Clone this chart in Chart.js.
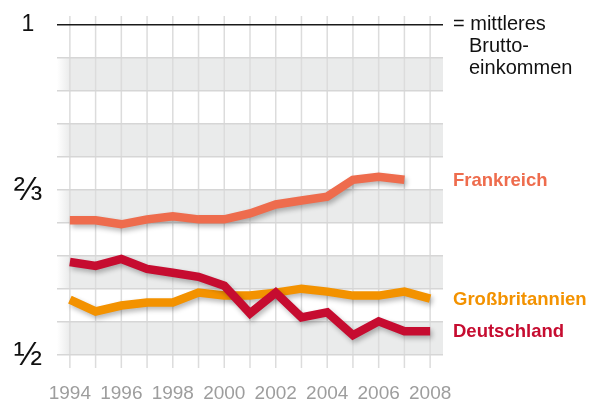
<!DOCTYPE html>
<html>
<head>
<meta charset="utf-8">
<script src="https://cdn.jsdelivr.net/npm/chart.js@4"></script>
<style>
  html, body { margin: 0; padding: 0; background: #fff; }
</style>
</head>
<body>
<canvas id="chart" width="592" height="401"></canvas>
<script>

// share of median gross income ("mittleres Bruttoeinkommen")
const years = ['1994', '1995', '1996', '1997', '1998', '1999', '2000', '2001',
               '2002', '2003', '2004', '2005', '2006', '2007', '2008'];

const frankreich = [0.636, 0.636, 0.632, 0.637, 0.640, 0.637, 0.637, 0.643,
                    0.652, 0.656, 0.660, 0.677, 0.680, 0.677, null];

const grossbritannien = [0.556, 0.544, 0.550, 0.553, 0.553, 0.563, 0.560, 0.560,
                         0.563, 0.567, 0.564, 0.560, 0.560, 0.564, 0.557];

const deutschland = [0.594, 0.590, 0.597, 0.587, 0.583, 0.579, 0.570, 0.542,
                     0.563, 0.538, 0.543, 0.520, 0.534, 0.524, 0.524];

// the axis is broken: ½ → ⅔ and ⅔ → 1 get the same height, so the
// "1" line sits where 5/6 would be on a plain scale
const gridValues = [0.5, 0.5333, 0.5667, 0.6, 0.6333, 0.6667, 0.7, 0.7333, 0.7667, 0.8, 0.8333];
const yLabels = { 0: '\u00BD', 5: '\u2154', 10: '1' };

const FONT = '"Liberation Sans", Arial, sans-serif';

const backdrop = {
    id: 'backdrop',
    beforeDraw(chart) {
        const { ctx, chartArea: a, scales: { x, y } } = chart;
        ctx.save();

        // grey bands
        for (let i = 0; i < gridValues.length - 1; i += 2) {
            const top = y.getPixelForValue(gridValues[i + 1]);
            const bottom = y.getPixelForValue(gridValues[i]);
            const grad = ctx.createLinearGradient(a.left, 0, a.left + 13, 0);
            grad.addColorStop(0, '#ffffff');
            grad.addColorStop(1, '#eaebeb');
            ctx.fillStyle = grad;
            ctx.fillRect(a.left, top, a.right - a.left, bottom - top);
        }

        // year lines, a bit longer than the plot
        ctx.strokeStyle = '#dcdcdc';
        ctx.lineWidth = 1.5;
        years.forEach((yr, i) => {
            const px = x.getPixelForValue(i);
            ctx.beginPath();
            ctx.moveTo(px, a.top - 9);
            ctx.lineTo(px, a.bottom + 13);
            ctx.stroke();
        });

        // y labels: ½, ⅔, 1
        ctx.fillStyle = '#111';
        ctx.textAlign = 'center';
        ctx.textBaseline = 'middle';
        Object.keys(yLabels).forEach(k => {
            const i = Number(k);
            ctx.font = (i === 10 ? 23 : 34) + 'px ' + FONT;
            ctx.fillText(yLabels[k], 28, y.getPixelForValue(gridValues[i]) + (i === 10 ? 0 : 1));
        });

        ctx.restore();
    },
    beforeDatasetDraw(chart) {
        const ctx = chart.ctx;
        ctx.save();
        ctx.shadowColor = 'rgba(0,0,0,0.28)';
        ctx.shadowBlur = 5;
        ctx.shadowOffsetX = 2;
        ctx.shadowOffsetY = 3;
    },
    afterDatasetDraw(chart) {
        chart.ctx.restore();
    },
    afterDatasetsDraw(chart) {
        const { ctx, chartArea: a, scales: { y } } = chart;
        ctx.save();
        ctx.textBaseline = 'middle';
        ctx.textAlign = 'left';

        // series names at the last point
        ctx.font = 'bold 18.5px ' + FONT;
        chart.data.datasets.forEach((ds, di) => {
            const pts = chart.getDatasetMeta(di).data;
            let last = ds.data.length - 1;
            while (ds.data[last] == null) last--;
            ctx.fillStyle = ds.borderColor;
            ctx.fillText(ds.label, a.right + 10, pts[last].y + 1);
        });

        // note next to the "1" line
        const top = y.getPixelForValue(gridValues[gridValues.length - 1]);
        ctx.fillStyle = '#111';
        ctx.font = '20px ' + FONT;
        ctx.fillText('= mittleres', a.right + 10, top - 1);
        ctx.fillText('Brutto-', a.right + 26, top + 21);
        ctx.fillText('einkommen', a.right + 26, top + 43);

        ctx.restore();
    }
};

new Chart(document.getElementById('chart'), {
    type: 'line',
    data: {
        labels: years,
        datasets: [
            { label: 'Deutschland', data: deutschland, borderColor: '#c60c30' },
            { label: 'Großbritannien', data: grossbritannien, borderColor: '#f39200' },
            { label: 'Frankreich', data: frankreich, borderColor: '#ee6c4d' }
        ]
    },
    options: {
        responsive: false,
        animation: false,
        devicePixelRatio: 1,
        layout: { padding: { top: 25, right: 149, bottom: 0, left: 0 } },
        elements: {
            line: { borderWidth: 8.5, tension: 0, borderCapStyle: 'butt', borderJoinStyle: 'miter', fill: false },
            point: { radius: 0, hoverRadius: 0 }
        },
        plugins: {
            legend: { display: false },
            tooltip: { enabled: false }
        },
        scales: {
            x: {
                type: 'category',
                offset: true,
                grid: { display: false, drawTicks: false },
                border: { display: false },
                afterFit: s => { s.height = 46; },
                ticks: {
                    autoSkip: false,
                    maxRotation: 0,
                    padding: 27,
                    color: '#9d9d9d',
                    font: { family: FONT, size: 19 },
                    callback: (v, i) => (i % 2 === 0 ? years[i] : '')
                }
            },
            y: {
                min: 0.5,
                max: 0.8333,
                afterBuildTicks: s => { s.ticks = gridValues.map(v => ({ value: v })); },
                afterFit: s => { s.width = 57; },
                grid: {
                    drawTicks: false,
                    color: c => (c.index === gridValues.length - 1 ? '#1a1a1a' : '#d6d6d6'),
                    lineWidth: 1.5
                },
                border: { display: false },
                ticks: { display: false, autoSkip: false }
            }
        }
    },
    plugins: [backdrop]
});

</script>
</body>
</html>
